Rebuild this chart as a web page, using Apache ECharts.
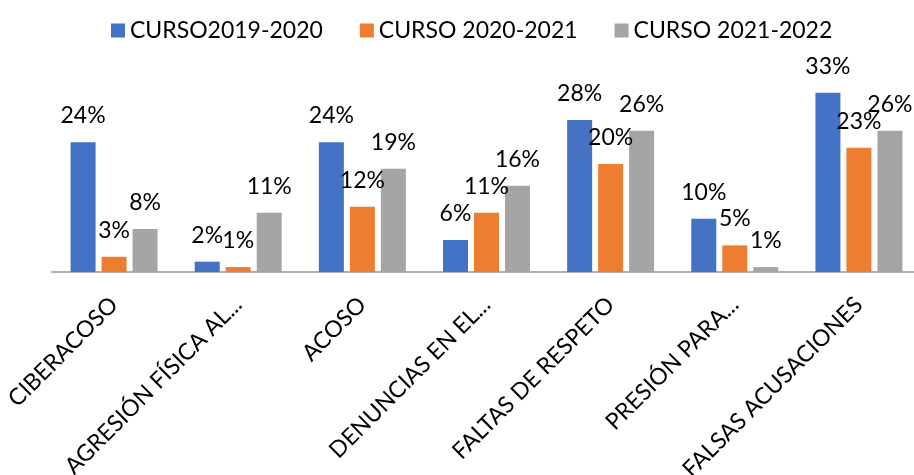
<!DOCTYPE html>
<html lang="es">
<head>
	<meta charset="UTF-8">
	<title>Cursos</title>
	<script type="text/javascript" src="https://cdn.jsdelivr.net/npm/echarts@6/dist/echarts.min.js"></script>
	<style>
		html, body { margin: 0; padding: 0; background: #fff; overflow: hidden; }
		/* el eje sigue un poco mas alla del borde derecho, como en la imagen */
		#chart { width: 922px; height: 475px; }
	</style>
</head>
<body>
	<div id="chart"></div>
	<script type="text/javascript">
		// datos (%)
		var categorias = ['CIBERACOSO', 'AGRESIÓN FÍSICA AL...', 'ACOSO', 'DENUNCIAS EN EL...', 'FALTAS DE RESPETO', 'PRESIÓN PARA...', 'FALSAS ACUSACIONES'];
		var nombres = ['CURSO2019-2020', 'CURSO 2020-2021', 'CURSO 2021-2022'];
		var curso1920 = [23.9, 1.9, 23.9, 5.9, 28.0, 9.8, 33.0];
		var curso2021 = [2.8, 0.9, 12.0, 10.9, 19.9, 4.9, 22.9];
		var curso2122 = [7.9, 10.9, 19.0, 15.9, 26.0, 0.9, 26.0];
		var colores = ['#4472C4', '#ED7D31', '#A5A5A5'];

		var fuente = 'Lato';
		var myChart = echarts.init(document.getElementById('chart'));

		var series = [curso1920, curso2021, curso2122].map(function (d, i) {
			return {
				name: nombres[i],
				type: 'bar',
				data: d,
				barWidth: 25,
				barGap: '24%',
				itemStyle: { color: colores[i] },
				label: {
					show: true,
					position: 'top',
					distance: 15,
					fontFamily: fuente,
					fontSize: 23,
					color: '#000',
					formatter: function (p) { return Math.round(p.value) + '%'; }
				}
			};
		});

		var option = {
			animation: false,
			legend: {
				data: nombres,
				left: 106,
				top: 14,
				icon: 'rect',
				itemWidth: 14,
				itemHeight: 14,
				itemGap: 37,
				textStyle: { fontFamily: fuente, fontSize: 23, color: '#000' }
			},
			grid: {
				left: 52,
				top: 82,
				width: 869,
				height: 190,
				containLabel: false,
				outerBoundsMode: 'none'
			},
			xAxis: {
				type: 'category',
				data: categorias,
				axisLine: { lineStyle: { color: '#B0B0B0', width: 2 } },
				axisTick: { show: false },
				axisLabel: {
					interval: 0,
					rotate: 45,
					margin: 29,
					fontFamily: fuente,
					fontSize: 23,
					color: '#000'
				}
			},
			yAxis: {
				type: 'value',
				min: 0,
				max: 35,
				show: false
			},
			series: series
		};
		myChart.setOption(option);
	</script>
</body>
</html>
